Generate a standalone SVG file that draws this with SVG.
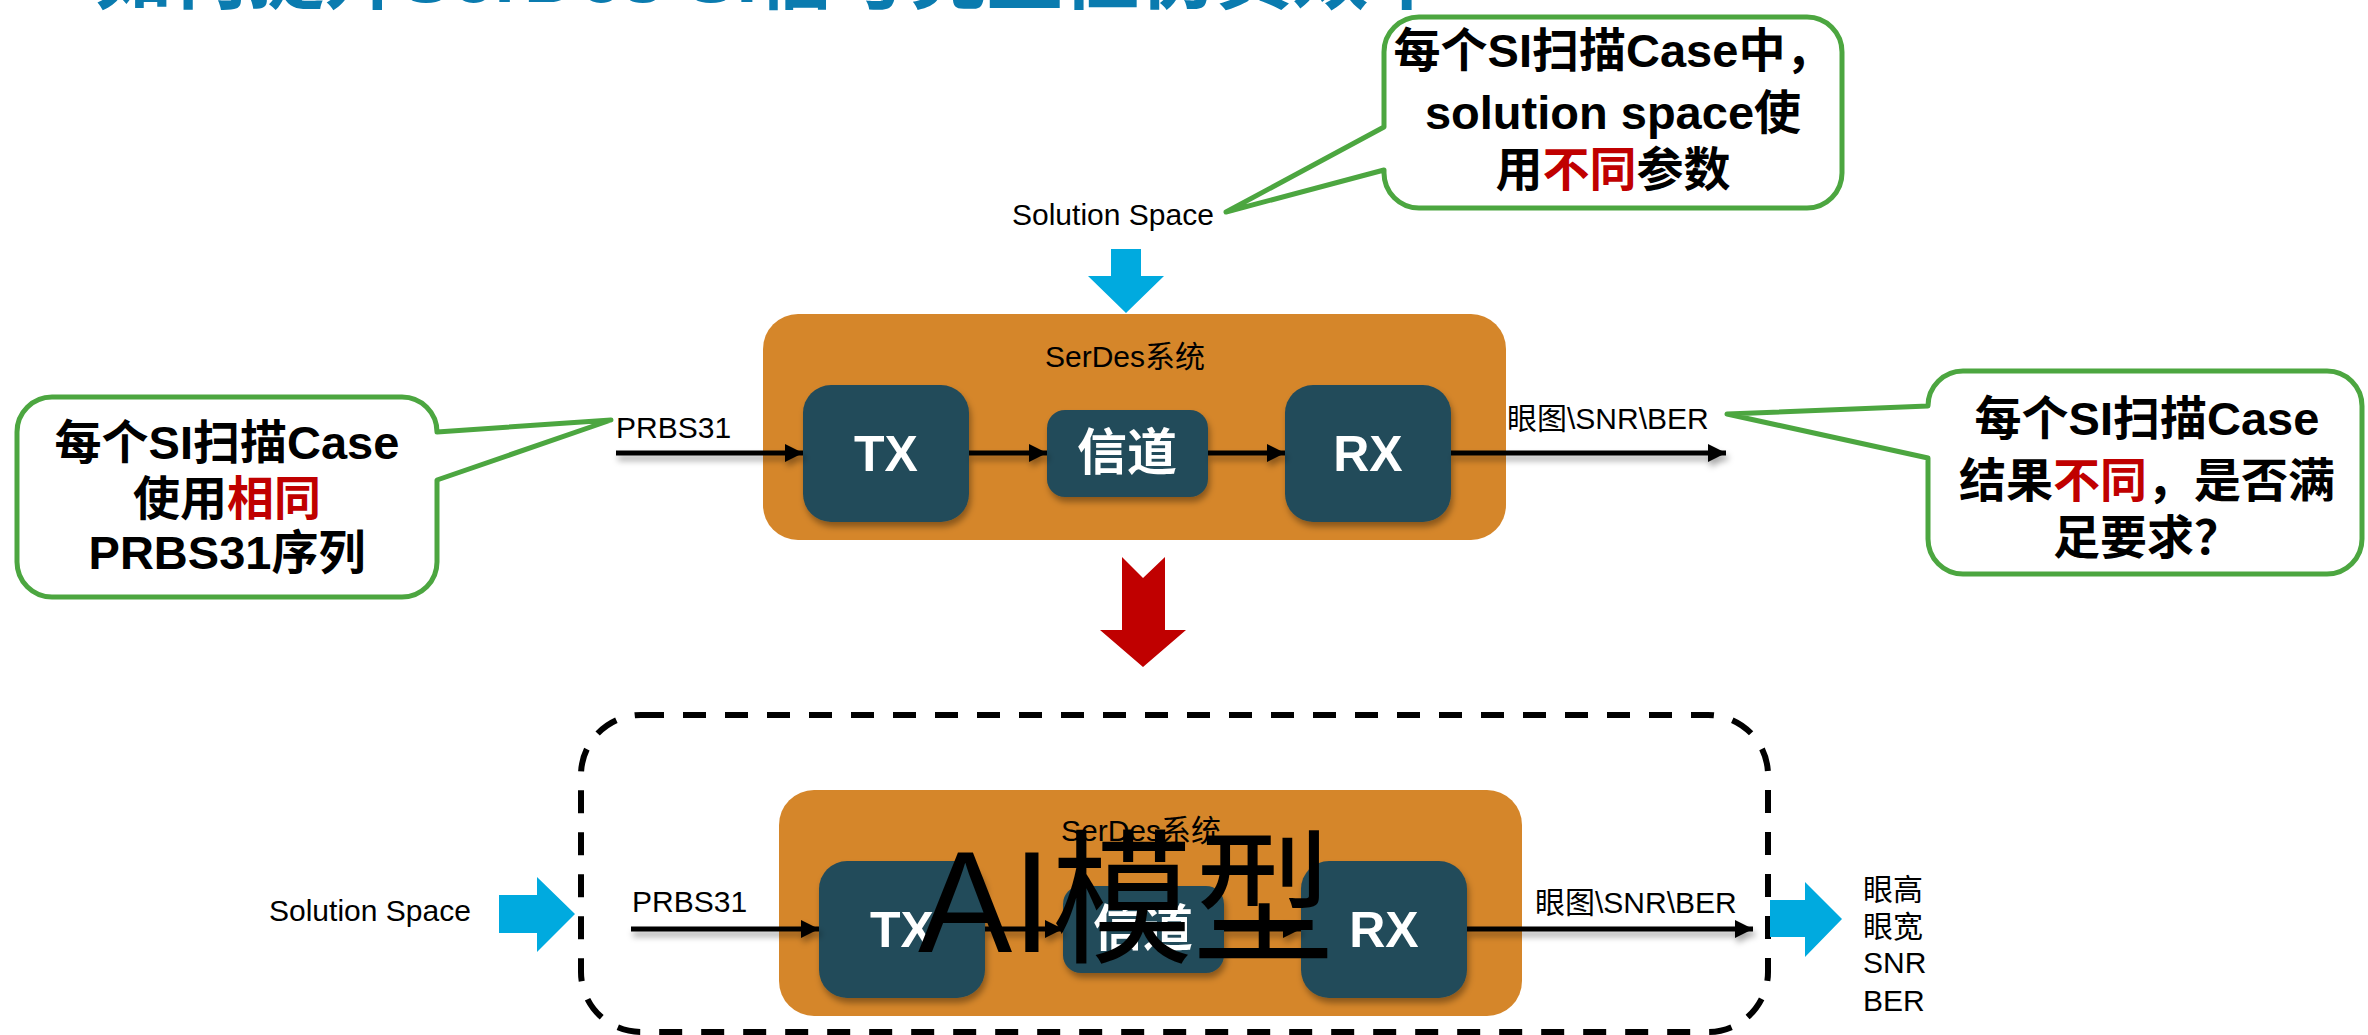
<svg xmlns="http://www.w3.org/2000/svg" width="2368" height="1035" viewBox="0 0 2368 1035">
<style>
.t{font-family:'Liberation Sans','Noto Sans CJK SC',sans-serif;fill:#000}
.lbl{font-size:30px}
.bub{font-size:47px;font-weight:bold;text-anchor:middle}
.red{fill:#C00000}
.blk{font-size:50px;font-weight:bold;fill:#fff;text-anchor:middle}
.orange{fill:#D5862A}
.dark{fill:#244B5A}
.callout{fill:#fff;stroke:#4CA640;stroke-width:5;stroke-linejoin:round}
.conn{stroke:#000;stroke-width:5;fill:none}
.blue{fill:#00AADF}
</style>
<defs>
<marker id="ah" markerUnits="userSpaceOnUse" markerWidth="20" markerHeight="20" refX="18" refY="9" orient="auto">
<path d="M0,0 L18,9 L0,18 z" fill="#000"/>
</marker>
<filter id="sh" x="-10%" y="-50%" width="120%" height="250%">
<feDropShadow dx="2" dy="5" stdDeviation="3" flood-color="#000" flood-opacity="0.35"/>
</filter>
</defs>

<text id="title" class="t" x="95" y="2" font-size="80" font-weight="bold" style="fill:#0A7BAF" textLength="1350" lengthAdjust="spacingAndGlyphs">如何提升SerDes SI信号完整性仿真效率</text>

<g id="callout-top">
<path class="callout" d="M1419,17 H1807 A35,35 0 0 1 1842,52 V173 A35,35 0 0 1 1807,208 H1419 A35,35 0 0 1 1384,173 V170 L1226,212 L1384,127 V52 A35,35 0 0 1 1419,17 Z"/>
<text class="t bub" x="1613" y="67" font-size="48">每个SI扫描Case中，</text>
<text class="t bub" x="1613" y="129">solution space使</text>
<text class="t bub" x="1613" y="186">用<tspan class="red">不同</tspan>参数</text>
</g>

<g id="callout-left">
<path class="callout" d="M52,397 H402 A35,35 0 0 1 437,432 L611,420 L437,480 V562 A35,35 0 0 1 402,597 H52 A35,35 0 0 1 17,562 V432 A35,35 0 0 1 52,397 Z"/>
<text class="t bub" x="227" y="459">每个SI扫描Case</text>
<text class="t bub" x="227" y="515">使用<tspan class="red">相同</tspan></text>
<text class="t bub" x="227" y="569">PRBS31序列</text>
</g>

<g id="callout-right">
<path class="callout" d="M1963,371 H2327 A35,35 0 0 1 2362,406 V539 A35,35 0 0 1 2327,574 H1963 A35,35 0 0 1 1928,539 V458 L1727,414 L1928,406 A35,35 0 0 1 1963,371 Z"/>
<text class="t bub" x="2147" y="435">每个SI扫描Case</text>
<text class="t bub" x="2147" y="497">结果<tspan class="red">不同</tspan>，是否满</text>
<text class="t bub" x="2147" y="554">足要求？</text>
</g>

<g id="label-solution-top"><text class="t lbl" x="1012" y="225">Solution Space</text></g>
<g id="arrow-solution-down"><polygon class="blue" points="1111,249 1141,249 1141,276 1164,276 1126,313 1088,276 1111,276"/></g>

<g id="serdes-top">
<rect class="orange" x="763" y="314" width="743" height="226" rx="35"/>
<text class="t" x="1125" y="367" font-size="30" text-anchor="middle">SerDes系统</text>
</g>
<g id="tx-top"><rect class="dark" x="803" y="385" width="166" height="137" rx="28" filter="url(#sh)"/><text class="t blk" x="886" y="471">TX</text></g>
<g id="ch-top"><rect class="dark" x="1047" y="410" width="161" height="87" rx="18" filter="url(#sh)"/><text class="t blk" x="1127" y="470" font-size="46">信道</text></g>
<g id="rx-top"><rect class="dark" x="1285" y="385" width="166" height="137" rx="28" filter="url(#sh)"/><text class="t blk" x="1368" y="471">RX</text></g>

<g id="label-prbs-top"><text class="t lbl" x="616" y="438">PRBS31</text></g>
<g id="label-out-top"><text class="t lbl" x="1507" y="429">眼图\SNR\BER</text></g>

<g id="arrow-red"><polygon points="1122,557 1143,578 1165,557 1165,630 1186,630 1143,667 1100,630 1122,630" fill="#C00000"/></g>

<g id="ai-model">
<rect x="581" y="715" width="1187" height="317" rx="60" fill="none" stroke="#000" stroke-width="6" stroke-dasharray="23 19"/>
</g>

<g id="serdes-bottom">
<rect class="orange" x="779" y="790" width="743" height="226" rx="35"/>
<text class="t" x="1141" y="841" font-size="30" text-anchor="middle">SerDes系统</text>
</g>
<g id="tx-bottom"><rect class="dark" x="819" y="861" width="166" height="137" rx="28" filter="url(#sh)"/><text class="t blk" x="902" y="947">TX</text></g>
<g id="ch-bottom"><rect class="dark" x="1063" y="886" width="161" height="87" rx="18" filter="url(#sh)"/><text class="t blk" x="1143" y="946" font-size="46">信道</text></g>
<g id="rx-bottom"><rect class="dark" x="1301" y="861" width="166" height="137" rx="28" filter="url(#sh)"/><text class="t blk" x="1384" y="947">RX</text></g>

<g id="label-solution-bottom"><text class="t lbl" x="269" y="921">Solution Space</text></g>
<g id="label-prbs-bottom"><text class="t lbl" x="632" y="912">PRBS31</text></g>
<g id="label-out-bottom"><text class="t lbl" x="1535" y="913">眼图\SNR\BER</text></g>

<g id="connectors">
<g filter="url(#sh)">
<line class="conn" x1="616" y1="453" x2="803" y2="453" marker-end="url(#ah)"/>
<line class="conn" x1="969" y1="453" x2="1047" y2="453" marker-end="url(#ah)"/>
<line class="conn" x1="1208" y1="453" x2="1285" y2="453" marker-end="url(#ah)"/>
<line class="conn" x1="1451" y1="453" x2="1726" y2="453" marker-end="url(#ah)"/>
<line class="conn" x1="631" y1="929" x2="819" y2="929" marker-end="url(#ah)"/>
<line class="conn" x1="985" y1="929" x2="1063" y2="929" marker-end="url(#ah)"/>
<line class="conn" x1="1224" y1="929" x2="1301" y2="929" marker-end="url(#ah)"/>
<line class="conn" x1="1467" y1="929" x2="1753" y2="929" marker-end="url(#ah)"/>
</g>
<polygon class="blue" points="499,895 537,895 537,877 575,914 537,952 537,933 499,933"/>
<polygon class="blue" points="1770,900 1805,900 1805,882 1842,919 1805,957 1805,937 1770,937"/>
</g>

<g id="ai-label"><text class="t" x="918" y="952" font-size="145" textLength="416" lengthAdjust="spacingAndGlyphs">AI模型</text></g>

<g id="outputs">
<text class="t lbl" x="1863" y="900">眼高</text>
<text class="t lbl" x="1863" y="937">眼宽</text>
<text class="t lbl" x="1863" y="973">SNR</text>
<text class="t lbl" x="1863" y="1011">BER</text>
</g>
</svg>
